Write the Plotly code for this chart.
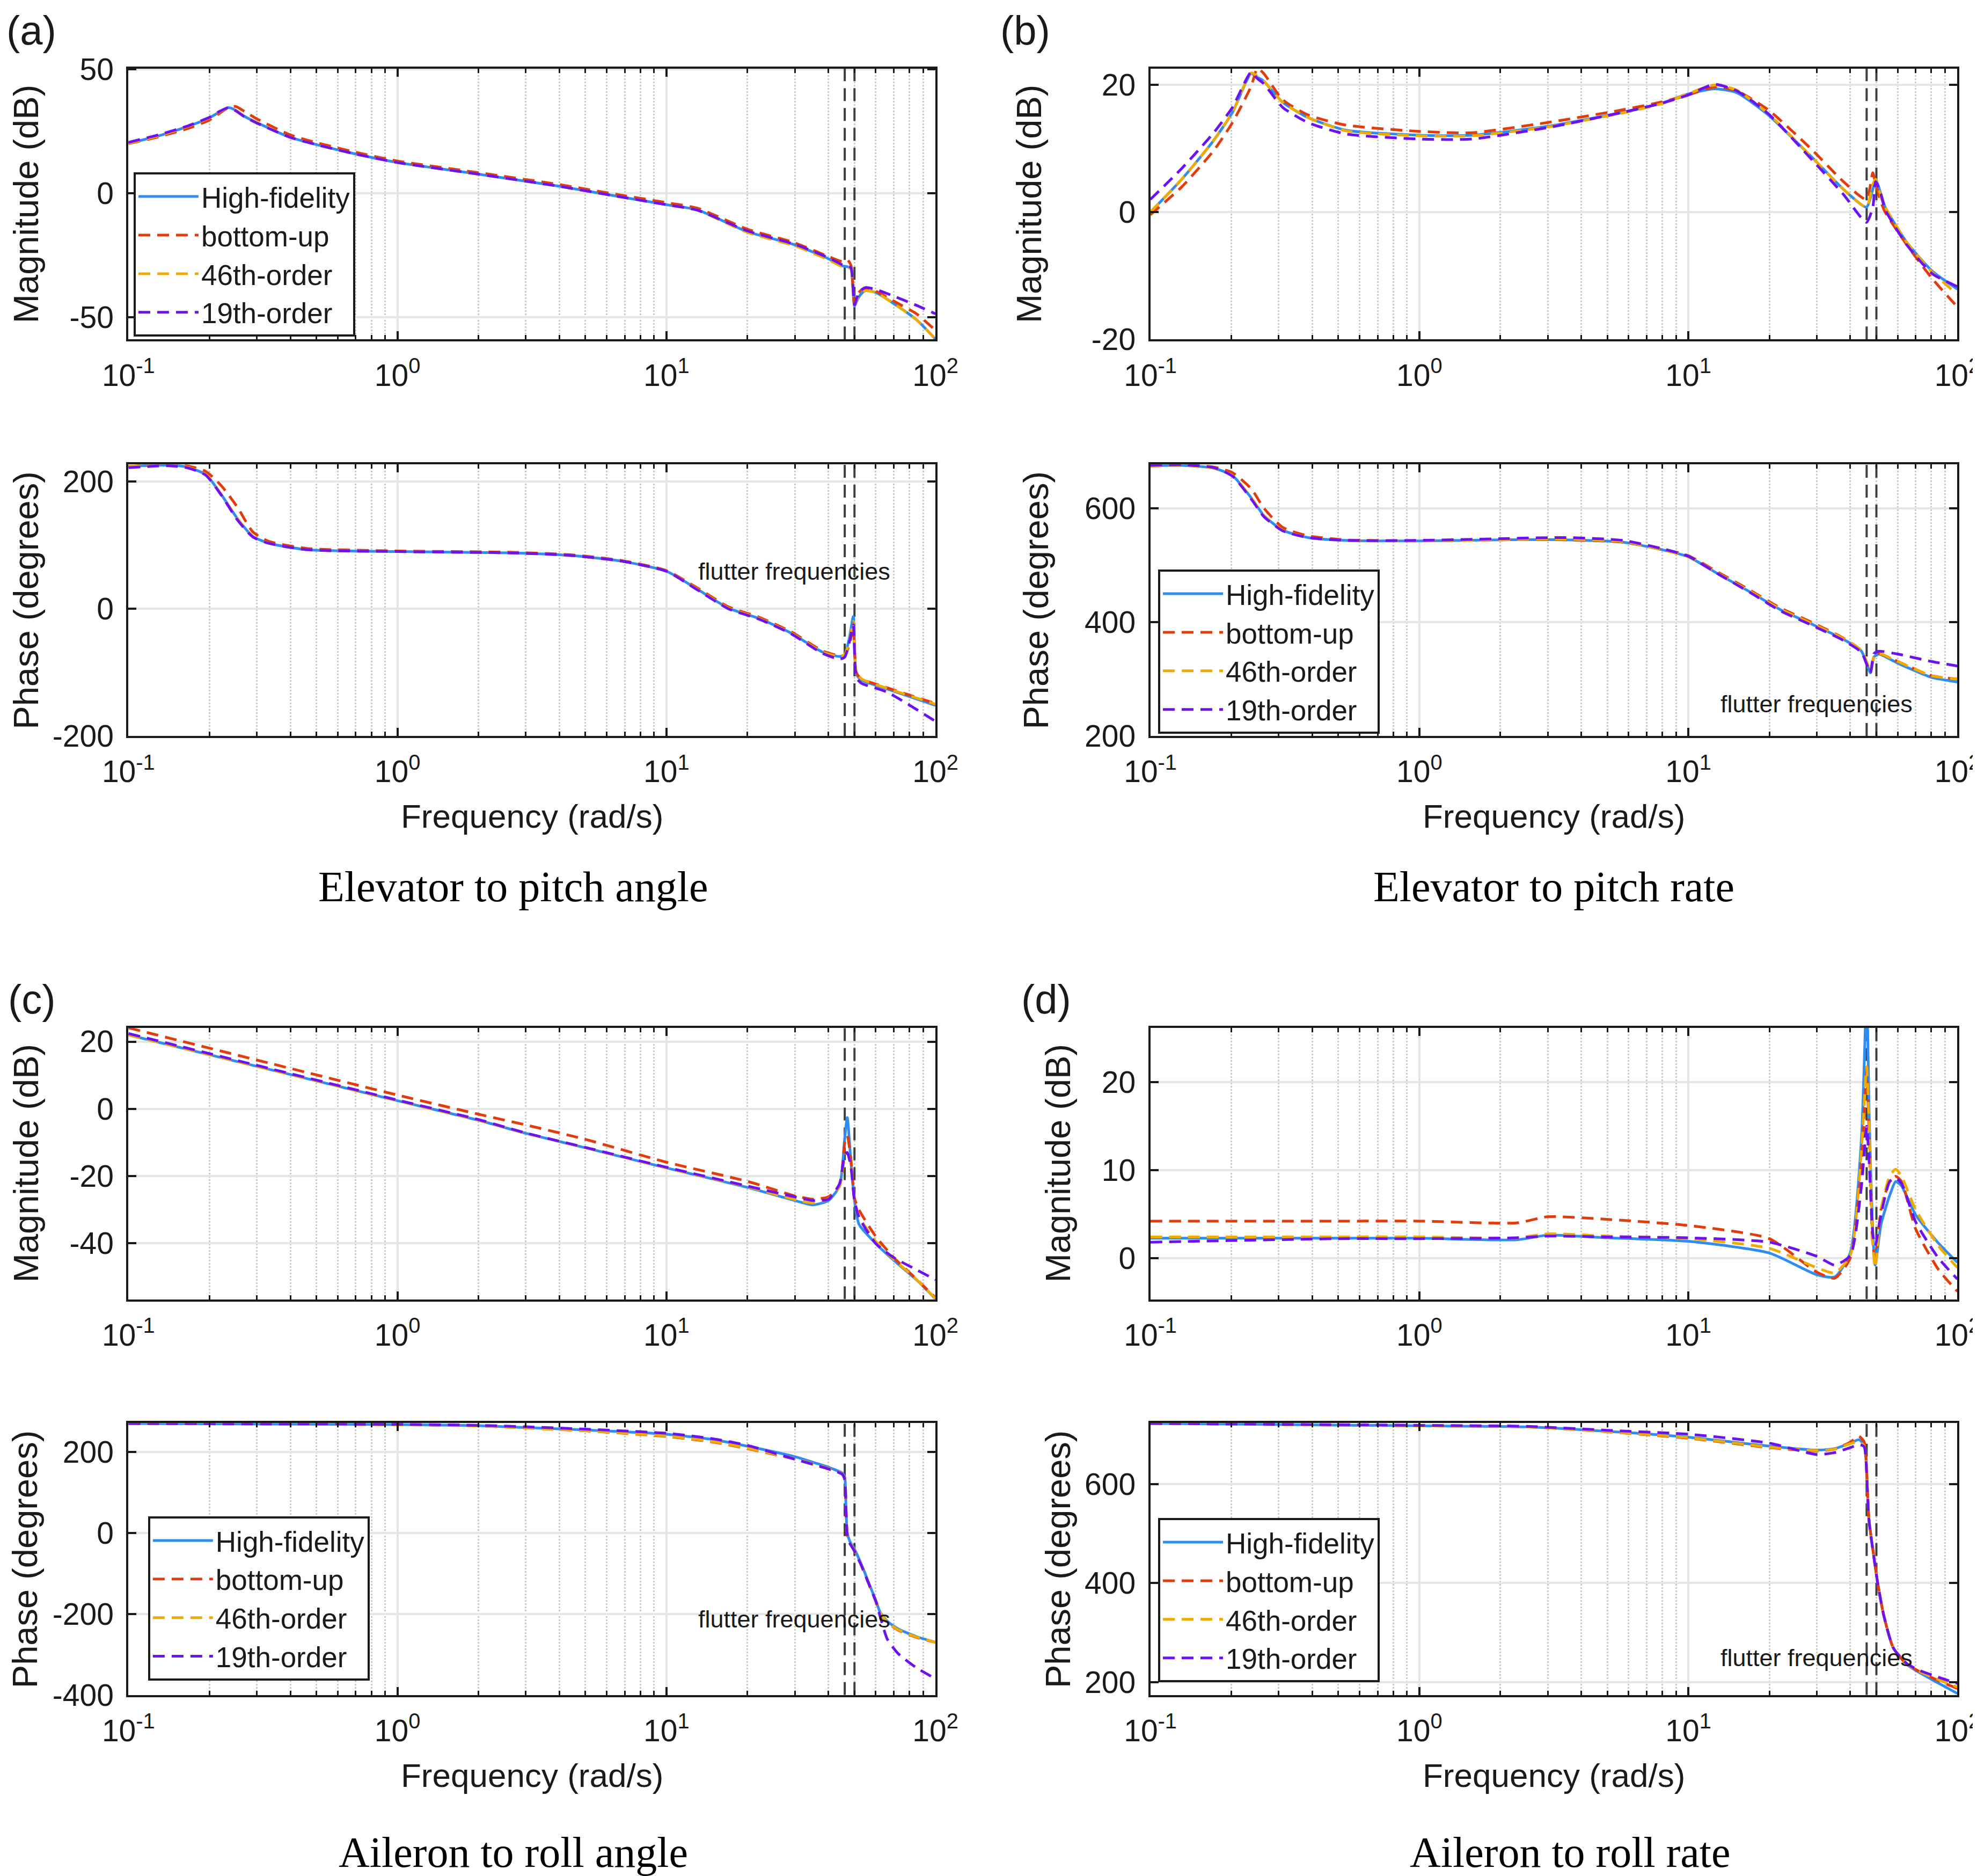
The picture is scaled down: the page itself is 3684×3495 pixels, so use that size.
import plotly.graph_objects as go

# ---------------- data ----------------
SERIES_NAMES = ["High-fidelity", "bottom-up", "46th-order", "19th-order"]
FLUTTER_FREQS = [46, 50]

# (a) elevator -> pitch angle, magnitude (dB)
FA_MAG = [0.1, 0.13, 0.165, 0.2, 0.22, 0.235, 0.25, 0.27, 0.3, 0.4, 0.5, 0.7, 1, 2, 4, 6, 10, 13,
          20, 30, 40, 45, 47, 48.5, 50, 51.5, 53, 55, 60, 70, 85, 100]
A_MAG_HF = [20.1, 23.2, 26.8, 30.4, 33.0, 34.5, 33.5, 31.0, 28.5, 22.5, 19.6, 15.8, 12.4, 7.7, 2.8, -0.5,
            -4.6, -6.7, -15.5, -20.8, -26.4, -29.3, -29.6, -30.3, -45.5, -42.5, -40.5, -39.3, -40.0,
            -44.5, -51.0, -58.8]
A_MAG_BU = [20.0, 22.8, 26.0, 29.5, 32.5, 34.5, 35.0, 33.0, 30.0, 23.5, 20.4, 16.5, 13.0, 8.3, 3.5, 0.2,
            -3.8, -6.0, -14.5, -20.0, -25.5, -27.5, -26.8, -29.0, -44.5, -40.5, -39.0, -38.4, -39.5,
            -43.5, -48.6, -55.3]
A_MAG_46 = [20.1, 23.2, 26.8, 30.4, 33.0, 34.4, 33.5, 31.0, 28.5, 22.5, 19.6, 15.8, 12.4, 7.7, 2.8, -0.5,
            -4.6, -6.8, -15.8, -21.2, -26.8, -29.6, -29.8, -30.5, -45.2, -42.0, -40.2, -39.3, -40.0,
            -44.5, -51.0, -58.8]
A_MAG_19 = [20.5, 23.6, 27.0, 30.6, 33.2, 34.5, 33.3, 30.8, 28.3, 22.5, 19.6, 15.8, 12.4, 7.7, 2.8, -0.5,
            -4.6, -6.8, -15.2, -20.6, -26.0, -28.8, -29.2, -30.0, -45.0, -41.0, -39.0, -38.0, -38.8,
            -41.5, -45.2, -48.6]

# (a) phase (degrees)
FA_PH = [0.1, 0.14, 0.165, 0.194, 0.222, 0.254, 0.29, 0.333, 0.46, 1, 2.6, 4.4, 6.8, 10, 13, 17, 22,
         29, 38, 44, 46, 48, 49.5, 50.8, 53, 66, 100]
A_PH_HF = [224, 226, 223, 211, 179, 142, 114, 103, 93, 90, 88, 84, 75, 59, 31, 1, -15, -38, -68, -75,
           -72, -43, -12, -103, -112, -126, -152]
A_PH_BU = [224, 227, 225, 216, 193, 160, 121, 106, 95, 91, 89, 85, 76, 60, 33, 3, -13, -36, -66, -74,
           -73, -55, -28, -100, -110, -124, -149]
A_PH_46 = [224, 226, 223, 211, 179, 142, 114, 103, 93, 90, 88, 84, 75, 59, 31, 1, -15, -38, -68, -75,
           -72, -48, -20, -100, -110, -125, -150]
A_PH_19 = [222, 225, 222, 210, 178, 140, 113, 103, 93, 90, 88, 84, 75, 59, 30, 0, -16, -39, -70, -79,
           -76, -50, -25, -108, -117, -131, -177]

# (b) elevator -> pitch rate, magnitude (dB)
FB_MAG = [0.1, 0.131, 0.172, 0.202, 0.237, 0.25, 0.264, 0.31, 0.385, 0.532, 1.0, 1.57, 3.0, 5.7, 7.9,
          9.8, 12.5, 15.1, 19.8, 29, 37.7, 45.9, 48.5, 49.7, 52, 53.9, 65, 80.8, 100]
B_MAG_HF = [0.0, 5.2, 11.3, 15.7, 21.8, 21.2, 20.6, 17.3, 14.9, 12.9, 12.1, 12.1, 13.5, 15.7, 17.1, 18.5,
            19.4, 18.8, 15.3, 8.5, 3.6, 0.8, 3.6, 5.2, 2.8, 0.8, -4.8, -9.3, -12.1]
B_MAG_BU = [-0.4, 4.0, 9.7, 14.1, 19.8, 22.6, 21.8, 17.7, 15.3, 13.7, 12.7, 12.5, 14.1, 16.1, 17.3, 18.3,
            19.7, 19.1, 16.1, 9.7, 4.8, 2.0, 6.2, 4.4, 1.6, 0.0, -5.2, -10.5, -14.9]
B_MAG_46 = [0.0, 5.2, 11.3, 15.7, 21.9, 21.4, 20.6, 17.3, 14.9, 12.8, 12.0, 12.0, 13.4, 15.6, 17.0, 18.5,
            20.0, 19.2, 15.5, 8.5, 3.6, 0.8, 4.4, 5.2, 2.4, 0.8, -4.8, -9.5, -12.9]
B_MAG_19 = [2.0, 6.9, 12.5, 16.5, 22.0, 21.0, 20.2, 16.5, 14.1, 12.3, 11.5, 11.5, 13.3, 15.7, 17.1, 18.3,
            20.1, 19.1, 15.5, 8.1, 2.8, -1.6, 0.8, 4.8, 2.8, 0.4, -5.2, -9.7, -11.7]

# (b) phase (degrees)
FB_PH = [0.1, 0.131, 0.172, 0.202, 0.237, 0.264, 0.31, 0.385, 0.532, 1.0, 2.0, 3.5, 5.7, 7.9, 10, 13,
         17, 22, 29, 37.7, 44, 46, 47.5, 49, 51, 60, 80, 100]
B_PH_HF = [675, 676, 671, 658, 619, 588, 562, 549, 544, 543, 545, 545, 541, 528, 515, 484, 453, 422, 396,
           370, 349, 328, 311, 339, 344, 328, 303, 295]
B_PH_BU = [675, 676, 673, 663, 635, 601, 567, 552, 545, 543, 545, 545, 541, 529, 517, 487, 456, 425, 399,
           372, 350, 330, 313, 340, 345, 331, 306, 300]
B_PH_46 = [674, 676, 671, 658, 619, 588, 562, 549, 544, 543, 545, 546, 542, 528, 515, 485, 454, 423, 397,
           371, 350, 330, 315, 340, 345, 331, 306, 300]
B_PH_19 = [676, 677, 672, 657, 617, 586, 561, 549, 544, 544, 547, 549, 544, 530, 516, 484, 452, 420, 394,
           368, 347, 326, 311, 345, 349, 344, 331, 323]

# (c) aileron -> roll angle, magnitude (dB)
FC_MAG = [0.1, 1.0, 2.0, 3.0, 5, 10, 20, 30, 35, 40, 44, 46, 47, 48.5, 50, 52, 60, 70, 85, 100]
C_MAG_HF = [22.0, 2.4, -3.4, -7.3, -11.6, -17.6, -23.4, -27.3, -28.6, -27.3, -23.0, -8.7, -2.6, -15.9,
            -27.3, -34.4, -40.1, -45.1, -50.9, -56.6]
C_MAG_BU = [24.1, 4.1, -1.6, -4.8, -9.1, -15.9, -21.6, -25.9, -26.9, -26.2, -23.0, -10.1, -8.0, -15.1,
            -26.6, -30.1, -38.0, -44.3, -50.7, -56.2]
C_MAG_46 = [22.0, 2.4, -3.4, -7.3, -11.6, -17.6, -23.2, -27.0, -28.0, -26.8, -23.0, -14.4, -13.0, -17.0,
            -27.0, -32.0, -39.5, -44.8, -50.8, -56.5]
C_MAG_19 = [22.4, 2.6, -3.2, -7.2, -11.5, -17.4, -23.0, -26.2, -27.3, -26.9, -22.3, -13.7, -13.0, -17.3,
            -27.3, -32.3, -40.1, -44.3, -47.9, -50.9]

# (c) phase (degrees)
FC_PH = [0.1, 1.0, 2.0, 3.0, 5, 10, 15, 20, 30, 40, 45, 46, 46.5, 47, 48, 50, 53, 56.6, 60.3, 62.2,
         66.2, 72.7, 85, 100]
C_PH_HF = [270, 267.5, 264.7, 260, 254, 243.5, 230, 214, 188, 162, 148, 138, 60, 0, -20, -40, -77, -124,
           -171, -195, -218, -237, -256, -270]
C_PH_BU = [270, 267, 264, 259, 252, 238, 224, 208, 182, 158, 145, 132, 55, -5, -25, -45, -80, -127,
           -173, -197, -221, -240, -258, -270]
C_PH_46 = [270, 267, 264, 259, 252, 239, 225, 209, 183, 159, 146, 134, 57, -3, -23, -43, -79, -126,
           -172, -196, -220, -239, -257, -270]
C_PH_19 = [270, 268, 265.5, 262, 256, 246, 232, 216, 182, 158, 145, 132, 55, -5, -25, -45, -80, -127,
           -172, -205, -262, -298, -333, -360]

# (d) aileron -> roll rate, magnitude (dB)
FD_MAG = [0.1, 0.5, 1, 2.3, 3.0, 5, 10, 20, 30, 35, 40, 44, 46, 47, 48.5, 49.5, 52, 56, 59, 62, 70, 85, 100]
D_MAG_HF = [2.25, 2.25, 2.25, 2.07, 2.6, 2.3, 1.9, 0.57, -1.9, -2.15, 0.6, 13.6, 30.0, 16.3, 2.7, -0.8,
            3.8, 7.1, 8.7, 8.2, 4.9, 1.7, -0.5]
D_MAG_BU = [4.2, 4.2, 4.2, 4.0, 4.7, 4.4, 3.7, 2.2, -1.6, -2.3, 0.0, 10.9, 21.2, 13.6, 1.4, 0.0, 5.5,
            8.7, 9.3, 8.7, 3.3, -1.3, -3.8]
D_MAG_46 = [2.4, 2.4, 2.4, 2.3, 2.75, 2.5, 2.2, 1.1, -1.1, -1.7, 0.3, 12.3, 21.8, 15.0, 1.4, -1.1, 5.5,
            9.3, 10.1, 9.3, 5.5, 1.4, -1.1]
D_MAG_19 = [1.8, 2.2, 2.2, 2.3, 2.5, 2.4, 2.3, 1.8, 0.2, -0.8, 0.3, 8.2, 15.0, 10.9, 2.7, 1.4, 4.9,
            8.7, 9.1, 8.5, 4.1, 0.0, -2.4]

# (d) phase (degrees)
FD_PH = [0.1, 1, 2.5, 5, 10, 20, 30, 35, 40, 43, 45, 45.7, 46.9, 48.8, 50.6, 53.3, 57.8, 64.7, 71.9, 85, 100]
D_PH_HF = [723, 718, 716, 707, 695, 677, 669, 672, 683, 690, 680, 654, 530, 458, 399, 334, 269, 236, 220,
           198, 177]
D_PH_BU = [723, 718, 716, 706, 693, 674, 667, 671, 685, 697, 686, 656, 530, 458, 399, 334, 269, 237, 222,
           203, 187]
D_PH_46 = [723, 718, 716, 706, 694, 675, 668, 671, 682, 686, 678, 652, 530, 458, 399, 334, 269, 237, 222,
           205, 190]
D_PH_19 = [723, 719, 717, 709, 701, 683, 660, 664, 674, 680, 676, 650, 528, 457, 399, 334, 269, 238, 224,
           210, 197]

X_TICKS = [0.1, 1, 10, 100]
X_TICKTEXT = ["10<sup>-1</sup>", "10<sup>0</sup>", "10<sup>1</sup>", "10<sup>2</sup>"]

# ---------------- styling ----------------
FONT = "Liberation Sans, Arial, Helvetica, sans-serif"
SERIF = "Liberation Serif, Times New Roman, serif"
INK = "#1a1a1a"
COLORS = ["#2f8cf0", "#e23c0c", "#f0aa00", "#6c12f0"]
DASHES = ["solid", "22px,13px", "22px,13px", "22px,13px"]
WIDTHS = [5, 5, 5, 5]

X_LEFT = [0.0628, 0.4710]
X_RIGHT = [0.5797, 0.9879]
ROW_MAG_TOP = [0.8214, 0.9658]
ROW_PH_TOP = [0.6100, 0.7547]
ROW_MAG_BOT = [0.3097, 0.4544]
ROW_PH_BOT = [0.0988, 0.2437]

panels = [
    dict(f=FA_MAG, s=[A_MAG_HF, A_MAG_BU, A_MAG_46, A_MAG_19], xd=X_LEFT, yd=ROW_MAG_TOP,
         yr=[-58.9, 50.3], yt=[-50, 0, 50], leg="legend", kind="mag"),
    dict(f=FA_PH, s=[A_PH_HF, A_PH_BU, A_PH_46, A_PH_19], xd=X_LEFT, yd=ROW_PH_TOP,
         yr=[-200, 227], yt=[-200, 0, 200], leg=None, kind="ph", note=59),
    dict(f=FB_MAG, s=[B_MAG_HF, B_MAG_BU, B_MAG_46, B_MAG_19], xd=X_RIGHT, yd=ROW_MAG_TOP,
         yr=[-20, 22.6], yt=[-20, 0, 20], leg=None, kind="mag"),
    dict(f=FB_PH, s=[B_PH_HF, B_PH_BU, B_PH_46, B_PH_19], xd=X_RIGHT, yd=ROW_PH_TOP,
         yr=[200, 677.5], yt=[200, 400, 600], leg="legend2", kind="ph", note=256),
    dict(f=FC_MAG, s=[C_MAG_HF, C_MAG_BU, C_MAG_46, C_MAG_19], xd=X_LEFT, yd=ROW_MAG_BOT,
         yr=[-56.7, 24.1], yt=[-40, -20, 0, 20], leg=None, kind="mag"),
    dict(f=FC_PH, s=[C_PH_HF, C_PH_BU, C_PH_46, C_PH_19], xd=X_LEFT, yd=ROW_PH_BOT,
         yr=[-400, 271], yt=[-400, -200, 0, 200], leg="legend3", kind="ph", note=-213),
    dict(f=FD_MAG, s=[D_MAG_HF, D_MAG_BU, D_MAG_46, D_MAG_19], xd=X_RIGHT, yd=ROW_MAG_BOT,
         yr=[-4.7, 26.2], yt=[0, 10, 20], leg=None, kind="mag"),
    dict(f=FD_PH, s=[D_PH_HF, D_PH_BU, D_PH_46, D_PH_19], xd=X_RIGHT, yd=ROW_PH_BOT,
         yr=[174, 723.5], yt=[200, 400, 600], leg="legend4", kind="ph", note=249),
]

minor_vals = [k * 10.0 ** e for e in (-1, 0, 1) for k in range(2, 10)]

fig = go.Figure()
layout = {}
annotations = []

for i, p in enumerate(panels, start=1):
    sfx = "" if i == 1 else str(i)
    xa, ya = "x" + sfx, "y" + sfx
    # flutter frequency markers, drawn first so the responses sit on top
    for ff in FLUTTER_FREQS:
        fig.add_trace(go.Scatter(
            x=[ff, ff], y=p["yr"], mode="lines", xaxis=xa, yaxis=ya, showlegend=False,
            hoverinfo="skip", line=dict(color="#3c3f3f", width=4, dash="24px,13px"),
        ))
    for j in range(4):
        fig.add_trace(go.Scatter(
            x=p["f"], y=p["s"][j], mode="lines", name=SERIES_NAMES[j],
            xaxis=xa, yaxis=ya,
            line=dict(color=COLORS[j], width=WIDTHS[j], dash=DASHES[j], shape="spline", smoothing=0.6),
            showlegend=p["leg"] is not None,
            legend=p["leg"] if p["leg"] else "legend",
        ))

    layout["xaxis" + sfx] = dict(
        type="log", domain=p["xd"], anchor=ya, range=[-1, 2], automargin=False,
        tickmode="array", tickvals=X_TICKS, ticktext=X_TICKTEXT,
        ticks="inside", ticklen=15, tickwidth=4, tickcolor=INK,
        showline=True, linecolor=INK, linewidth=4, mirror="ticks",
        showgrid=True, gridcolor="#e4e6e5", gridwidth=4, zeroline=False,
        tickfont=dict(family=FONT, size=57, color=INK), ticklabelstandoff=14,
        minor=dict(tickmode="array", tickvals=minor_vals, ticks="inside", ticklen=8, tickwidth=3,
                   tickcolor=INK, showgrid=True, gridcolor="#c6cbc9", gridwidth=3, griddash="dot"),
    )
    layout["yaxis" + sfx] = dict(
        domain=p["yd"], anchor=xa, range=p["yr"], tickmode="array", tickvals=p["yt"],
        ticktext=[str(v) for v in p["yt"]], automargin=False,
        ticks="inside", ticklen=15, tickwidth=4, tickcolor=INK,
        showline=True, linecolor=INK, linewidth=4, mirror="ticks",
        showgrid=True, gridcolor="#e4e6e5", gridwidth=4, zeroline=False,
        tickfont=dict(family=FONT, size=57, color=INK), ticklabelstandoff=12,
    )
    if p["kind"] == "ph":
        annotations.append(dict(text="flutter frequencies", xref=xa, yref=ya, x=1.476, y=p["note"],
                                xanchor="center", yanchor="middle",
                                showarrow=False, font=dict(family=FONT, size=45, color=INK)))

# axis titles
YLAB_X = {1: 0.0112, 2: 0.0110, 3: 0.5185, 4: 0.5218, 5: 0.0110, 6: 0.0105, 7: 0.5330, 8: 0.5330}
for i, p in enumerate(panels, start=1):
    annotations.append(dict(
        text="Magnitude (dB)" if p["kind"] == "mag" else "Phase (degrees)",
        xref="paper", yref="paper", x=YLAB_X[i], y=sum(p["yd"]) / 2, textangle=-90,
        xanchor="center", yanchor="middle",
        showarrow=False, font=dict(family=FONT, size=65, color=INK)))
for xd, yc in [(X_LEFT, 0.5672), (X_RIGHT, 0.5672), (X_LEFT, 0.0558), (X_RIGHT, 0.0558)]:
    annotations.append(dict(text="Frequency (rad/s)", xref="paper", yref="paper",
                            x=sum(xd) / 2, y=yc, xanchor="center", yanchor="middle", showarrow=False,
                            font=dict(family=FONT, size=62, color=INK)))

# panel captions and labels
for txt, x, y in [("Elevator to pitch angle", 0.2573, 0.5296), ("Elevator to pitch rate", 0.7837, 0.5296),
                  ("Aileron to roll angle", 0.2574, 0.0150), ("Aileron to roll rate", 0.792, 0.0150)]:
    annotations.append(dict(text=txt, xref="paper", yref="paper", x=x, y=y, xanchor="center",
                            yanchor="middle", showarrow=False,
                            font=dict(family=SERIF, size=80, color="black")))
for txt, x, y in [("(a)", 0.0006, 0.9862), ("(b)", 0.5032, 0.9862),
                  ("(c)", 0.0014, 0.4698), ("(d)", 0.5138, 0.4698)]:
    annotations.append(dict(text=txt, xref="paper", yref="paper", x=x, y=y, xanchor="left",
                            yanchor="middle", showarrow=False,
                            font=dict(family=FONT, size=76, color=INK)))

legend_style = dict(xanchor="left", yanchor="top", bgcolor="white", bordercolor=INK, borderwidth=4,
                    font=dict(family=FONT, size=53, color=INK), itemwidth=112, tracegroupgap=0)
layout["legend"] = dict(x=0.0654, y=0.9104, **legend_style)
layout["legend2"] = dict(x=0.5836, y=0.6987, **legend_style)
layout["legend3"] = dict(x=0.0727, y=0.1940, **legend_style)
layout["legend4"] = dict(x=0.5836, y=0.1931, **legend_style)

fig.update_layout(
    width=3684, height=3495, margin=dict(l=0, r=0, t=0, b=0, autoexpand=False),
    paper_bgcolor="white", plot_bgcolor="white",
    annotations=annotations, **layout,
)

fig.write_html("out.html")
